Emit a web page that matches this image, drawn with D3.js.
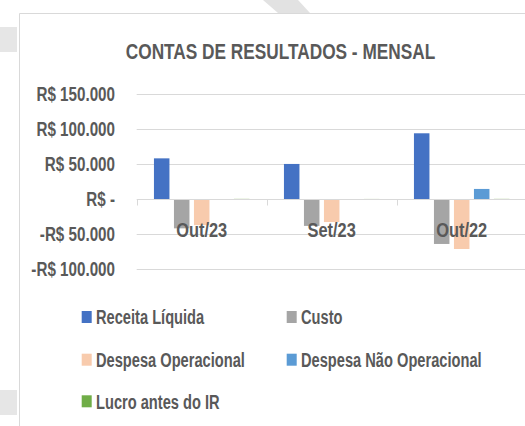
<!DOCTYPE html>
<html>
<head>
<meta charset="utf-8">
<script src="https://cdn.jsdelivr.net/npm/d3@7"></script>
<style>
  html, body { margin: 0; padding: 0; background: #fff; }
  svg { display: block; }
  text { font-family: "Liberation Sans", Arial, sans-serif; font-weight: bold; fill: #595959; }
</style>
</head>
<body>
<svg id="chart" width="525" height="426"></svg>
<script>
// months on the x axis
var categories = ["Out/23", "Set/23", "Out/22"];
// series names, in legend order
var seriesNames = ["Receita Líquida", "Custo", "Despesa Operacional", "Despesa Não Operacional", "Lucro antes do IR"];
// values per series, one per month (R$)
var receita = [58500, 50500, 94300];
var custo = [-41500, -38000, -63800];
var despOper = [-37000, -32500, -71000];
var despNaoOper = [0, 0, 14800];
var lucro = [600, 500, 600];
var yTicks = [-100000, -50000, 0, 50000, 100000, 150000];

var colors = ["#4472C4", "#A5A5A5", "#F8CBAD", "#5B9BD5", "#70AD47"];
var seriesValues = [receita, custo, despOper, despNaoOper, lucro];

var svg = d3.select("#chart");

// text squeezed horizontally (scale on x) so it looks like the narrow office font
function addText(parent, x, y, str, size, k, anchor) {
    return parent.append("text")
        .attr("transform", "translate(" + x + "," + y + ") scale(" + k + ",1)")
        .attr("text-anchor", anchor || "start")
        .style("font-size", size + "px")
        .text(str);
}

// background bits from the screenshot around the card
svg.append("path").attr("d", "M263,0 L298,0 L310,13 L278,13 Z").attr("fill", "#e2e2e2");
svg.append("rect").attr("x", 0).attr("y", 27).attr("width", 17).attr("height", 25).attr("fill", "#e6e6e6");
svg.append("rect").attr("x", 0).attr("y", 390).attr("width", 17).attr("height", 25).attr("fill", "#e6e6e6");
// card border (left and top, the rest is cut off)
svg.append("path").attr("d", "M19.5,426 L19.5,13.5 L525,13.5").attr("fill", "none").attr("stroke", "#d9d9d9");

// title
addText(svg, 280.5, 59, "CONTAS DE RESULTADOS - MENSAL", 22.4, 0.77, "middle");

var y = d3.scaleLinear().domain([-100000, 150000]).range([269.3, 94.3]);
var x = d3.scaleBand().domain(categories).range([136.7, 526.7]);
var xs = d3.scaleBand().domain(seriesNames).range([0, x.bandwidth()]).paddingInner(0.225).paddingOuter(0.8625);

function fmt(v) {
    if (v === 0) return "R$ -";
    var s = "R$ " + d3.format(",")(Math.abs(v)).replace(/,/g, ".");
    return v < 0 ? "-" + s : s;
}

// gridlines
svg.append("g").selectAll("line").data(yTicks.filter(function (d) { return d !== 0; }))
    .enter().append("line")
    .attr("x1", x.range()[0]).attr("x2", x.range()[1])
    .attr("y1", function (d) { return Math.round(y(d)) + 0.5; })
    .attr("y2", function (d) { return Math.round(y(d)) + 0.5; })
    .attr("stroke", "#d9d9d9");

// y labels
var yl = svg.append("g");
yTicks.forEach(function (t) {
    addText(yl, 115, y(t) + 7, fmt(t), 19.5, 0.78, "end");
});

// bars
var data = [];
categories.forEach(function (c, i) {
    seriesNames.forEach(function (s, j) {
        data.push({ cat: c, series: s, value: seriesValues[j][i], color: colors[j] });
    });
});
svg.append("g").selectAll("rect").data(data).enter().append("rect")
    .attr("x", function (d) { return x(d.cat) + xs(d.series); })
    .attr("width", xs.bandwidth())
    .attr("y", function (d) { return Math.min(y(d.value), y(0)); })
    .attr("height", function (d) { return Math.abs(y(d.value) - y(0)); })
    .attr("fill", function (d) { return d.color; });

// zero axis with category ticks
var zeroY = Math.round(y(0)) + 0.5;
var axis = svg.append("g").attr("stroke", "#d9d9d9");
axis.append("line").attr("x1", x.range()[0]).attr("x2", x.range()[1]).attr("y1", zeroY).attr("y2", zeroY);
axis.selectAll("line.tick").data(categories).enter().append("line").attr("class", "tick")
    .attr("x1", function (d) { return Math.round(x(d)) + 0.5; })
    .attr("x2", function (d) { return Math.round(x(d)) + 0.5; })
    .attr("y1", zeroY).attr("y2", zeroY + 6);

// category labels (sit just under the zero line)
var cl = svg.append("g");
categories.forEach(function (c) {
    addText(cl, x(c) + x.bandwidth() / 2, 236.7, c, 20, 0.82, "middle");
});

// legend
var legendPos = [[81.7, 317], [286.7, 317], [81.7, 359.7], [286.7, 359.7], [81.7, 401.3]];
var leg = svg.append("g");
seriesNames.forEach(function (s, i) {
    var g = leg.append("g").attr("transform", "translate(" + legendPos[i][0] + "," + legendPos[i][1] + ")");
    g.append("rect").attr("x", 0).attr("y", -6).attr("width", 10).attr("height", 12).attr("fill", colors[i]);
    addText(g, 14.3, 7.4, s, 20.5, 0.715);
});
</script>
</body>
</html>
